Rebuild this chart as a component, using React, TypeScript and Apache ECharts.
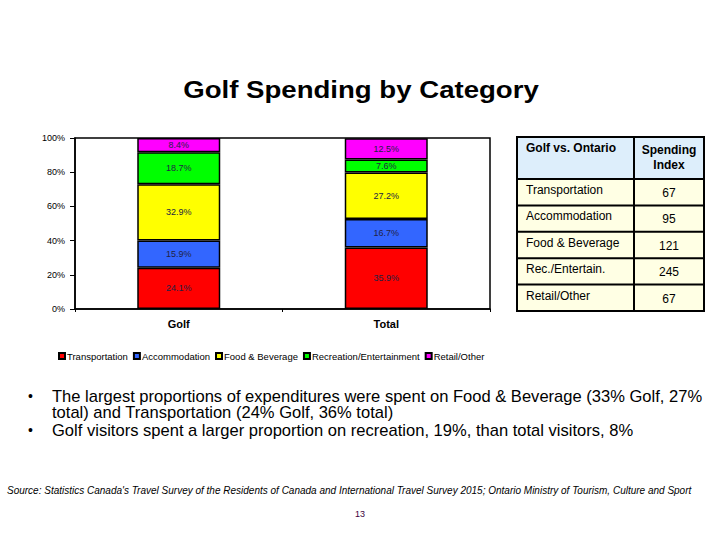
import React, { useEffect, useRef } from "react";
import * as echarts from "echarts";

const categories = ["Golf", "Total"];
const seriesNames = ["Transportation", "Accommodation", "Food & Beverage", "Recreation/Entertainment", "Retail/Other"];
const transportation = [24.1, 35.9];
const accommodation = [15.9, 16.7];
const foodBeverage = [32.9, 27.2];
const recreation = [18.7, 7.6];
const retail = [8.4, 12.5];
const seriesColors = ["#FF0000", "#3366FF", "#FFFF00", "#00FF00", "#FF00FF"];
const yTicks = [0, 20, 40, 60, 80, 100];

const titleText = "Golf Spending by Category";
const tableHeader = ["Golf vs. Ontario", "Spending\nIndex"];
const tableLabels = ["Transportation", "Accommodation", "Food & Beverage", "Rec./Entertain.", "Retail/Other"];
const spendingIndex = [67, 95, 121, 245, 67];

const bullets = [
  "The largest proportions of expenditures were spent on Food & Beverage (33% Golf, 27%\ntotal) and Transportation (24% Golf, 36% total)",
  "Golf visitors spent a larger proportion on recreation, 19%, than total visitors, 8%",
];
const sourceText =
  "Source: Statistics Canada's Travel Survey of the Residents of Canada and International Travel Survey 2015; Ontario Ministry of Tourism, Culture and Sport";
const pageNumber = "13";

export default function App() {
  const ref = useRef<HTMLDivElement>(null);
  useEffect(() => {
    if (!ref.current) return;
    const chart = echarts.init(ref.current, null, { renderer: "svg" });
    const data = [transportation, accommodation, foodBeverage, recreation, retail];
    const FONT = "Arial, 'Liberation Sans'";

    // table graphic
    const tX = 517, tY = 137, tW = 187, colX = 634;
    const headerH = 42, rowH = 26.4;
    const tableEls: any[] = [];
    tableEls.push({
      type: "rect",
      shape: { x: tX, y: tY, width: tW, height: headerH },
      style: { fill: "#DDEEFB", stroke: "none" },
    });
    tableEls.push({
      type: "rect",
      shape: { x: tX, y: tY + headerH, width: tW, height: rowH * tableLabels.length },
      style: { fill: "#FFFFE4", stroke: "none" },
    });
    tableEls.push({
      type: "text",
      style: { x: tX + 9, y: tY + 5, text: tableHeader[0], font: `bold 12px ${FONT}`, fill: "#000", textVerticalAlign: "top" },
    });
    tableEls.push({
      type: "text",
      style: {
        x: (colX + tX + tW) / 2, y: tY + 5, text: tableHeader[1], font: `bold 12px ${FONT}`,
        fill: "#000", textAlign: "center", textVerticalAlign: "top", lineHeight: 15,
      },
    });
    tableLabels.forEach((lab, i) => {
      const ry = tY + headerH + i * rowH;
      tableEls.push({
        type: "text",
        style: { x: tX + 9, y: ry + 11, text: lab, font: `12px ${FONT}`, fill: "#000", textVerticalAlign: "middle" },
      });
      tableEls.push({
        type: "text",
        style: {
          x: (colX + tX + tW) / 2, y: ry + 14, text: String(spendingIndex[i]), font: `12px ${FONT}`,
          fill: "#000", textAlign: "center", textVerticalAlign: "middle",
        },
      });
      tableEls.push({
        type: "line",
        shape: { x1: tX, y1: ry, x2: tX + tW, y2: ry },
        style: { stroke: "#000", lineWidth: 2 },
      });
    });
    const tH = headerH + rowH * tableLabels.length;
    tableEls.push({
      type: "line",
      shape: { x1: colX, y1: tY, x2: colX, y2: tY + tH },
      style: { stroke: "#000", lineWidth: 2 },
    });
    tableEls.push({
      type: "rect",
      shape: { x: tX, y: tY, width: tW, height: tH },
      style: { fill: "none", stroke: "#000", lineWidth: 2 },
    });

    const bulletEls: any[] = [];
    const bulletY = [388, 422];
    bullets.forEach((b, i) => {
      bulletEls.push({
        type: "text",
        style: { x: 28, y: bulletY[i] + 1, text: "•", font: `14px ${FONT}`, fill: "#000", textVerticalAlign: "top" },
      });
      bulletEls.push({
        type: "text",
        x: 52,
        y: bulletY[i],
        scaleX: 1.035,
        style: {
          x: 0, y: 0, text: b, font: `16px ${FONT}`, fill: "#000",
          textVerticalAlign: "top", lineHeight: 16,
        },
      });
    });

    chart.setOption({
      animation: false,
      backgroundColor: "#fff",
      legend: {
        left: 53,
        top: 346,
        itemWidth: 6,
        itemHeight: 6,
        itemGap: 5,
        icon: "rect",
        textStyle: { fontFamily: FONT, fontSize: 9.5, color: "#000", padding: [0, 0, 0, -3] },
        data: seriesNames,
      },
      grid: {
        left: 75, top: 138, width: 415, height: 171,
        show: true, borderColor: "#000", borderWidth: 1.5, backgroundColor: "transparent",
      },
      xAxis: {
        type: "category",
        data: categories,
        axisLine: { lineStyle: { color: "#000", width: 1.5 } },
        axisTick: { show: true, length: 3, alignWithLabel: false, lineStyle: { color: "#000" } },
        axisLabel: { fontFamily: FONT, fontSize: 11, fontWeight: "bold", color: "#000", margin: 9 },
      },
      yAxis: {
        type: "value",
        min: yTicks[0],
        max: yTicks[yTicks.length - 1],
        interval: 20,
        splitLine: { show: false },
        axisLine: { show: true, lineStyle: { color: "#000", width: 1.5 } },
        axisTick: { show: true, length: 5, lineStyle: { color: "#000" } },
        axisLabel: { formatter: "{value}%", fontFamily: FONT, fontSize: 9, color: "#000", margin: 10 },
      },
      series: seriesNames.map((name, i) => ({
        name,
        type: "bar",
        stack: "total",
        barWidth: "40%",
        data: data[i],
        itemStyle: { color: seriesColors[i], borderColor: "#000", borderWidth: 1.5 },
        label: {
          show: true,
          position: "inside",
          formatter: (p: any) => Number(p.value).toFixed(1) + "%",
          fontFamily: FONT,
          fontSize: 9,
          color: "#222244",
        },
      })),
      graphic: [
        {
          type: "text",
          x: 361,
          y: 90,
          scaleX: 1.2,
          style: {
            x: 0, y: 0, text: titleText, font: `bold 23px ${FONT}`, fill: "#000",
            textAlign: "center", textVerticalAlign: "middle",
          },
        },
        ...tableEls,
        ...bulletEls,
        {
          type: "text",
          style: {
            x: 7, y: 490, text: sourceText, font: `italic 10px ${FONT}`, fill: "#000",
            textVerticalAlign: "middle",
          },
        },
        {
          type: "text",
          style: {
            x: 360, y: 514, text: pageNumber, font: `9px ${FONT}`, fill: "#400040",
            textAlign: "center", textVerticalAlign: "middle",
          },
        },
      ],
    });
    return () => chart.dispose();
  }, []);
  return <div ref={ref} style={{ position: "fixed", left: 0, top: 0, width: 720, height: 540 }} />;
}
